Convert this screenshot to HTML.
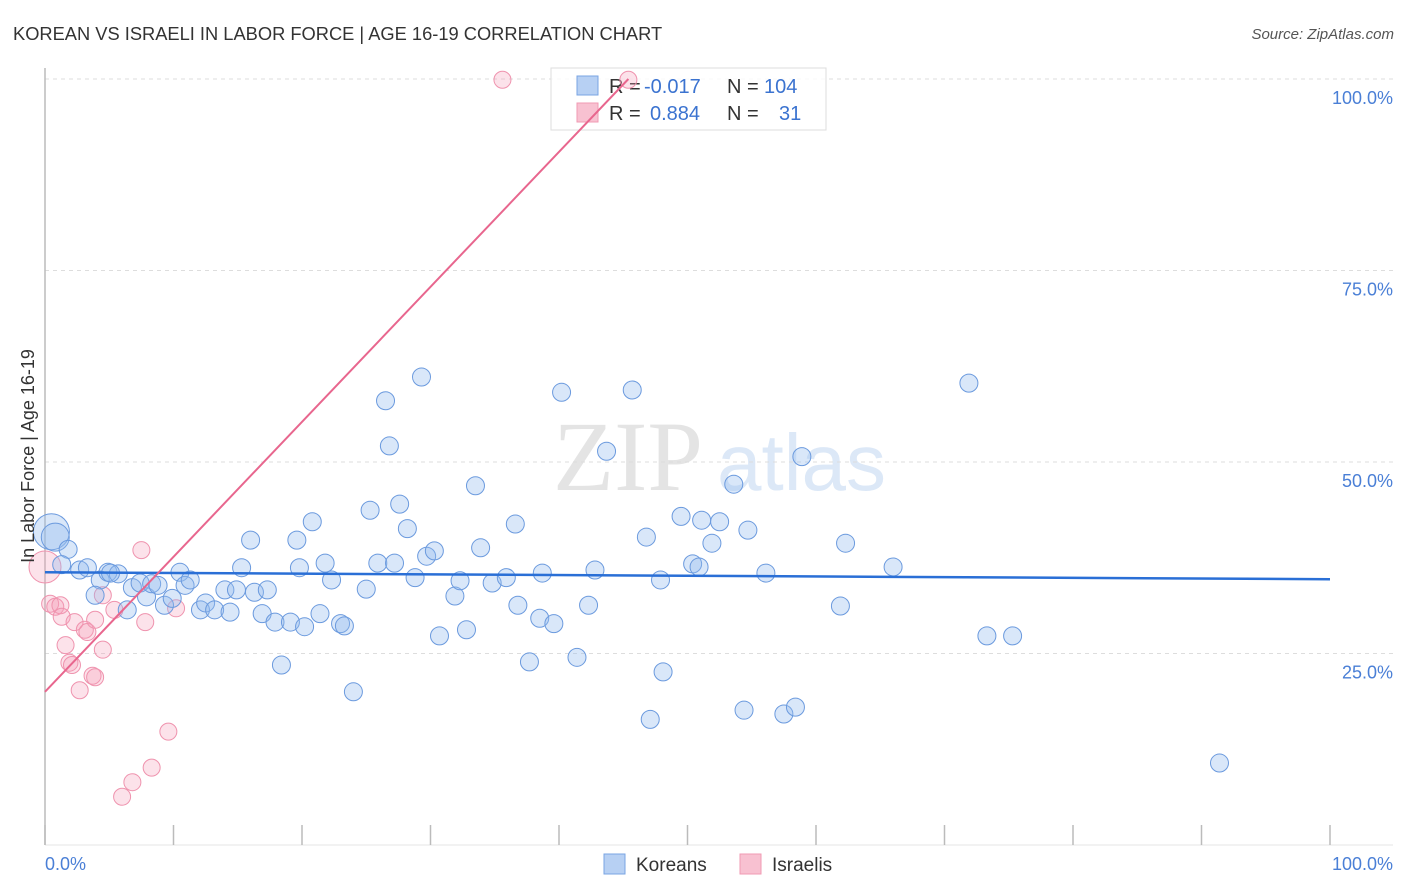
<!DOCTYPE html>
<html><head><meta charset="utf-8"><style>
body{margin:0;background:#fff;font-family:"Liberation Sans",sans-serif;}
svg{display:block}
</style></head><body>
<svg id="chart" width="1406" height="892" xmlns="http://www.w3.org/2000/svg" font-family="Liberation Sans, sans-serif">
<text x="13" y="40" font-size="18.3" fill="#333">KOREAN VS ISRAELI IN LABOR FORCE | AGE 16-19 CORRELATION CHART</text>
<text x="1394" y="39" font-size="15" fill="#555" font-style="italic" text-anchor="end">Source: ZipAtlas.com</text>
<g>
<text x="553" y="490" font-size="100" font-family="Liberation Serif, serif" fill="#e4e4e4">ZIP</text>
<text x="717" y="490" font-size="80" fill="#dce8f7">atlas</text>
</g>
<g id="grid"></g>
<g id="axes"></g>
<g>
<rect x="551" y="68" width="275" height="62" fill="#fff" fill-opacity="0.85" stroke="#ddd"/>
<rect x="577" y="76" width="21" height="19" fill="#b7d0f3" stroke="#7aa4e3"/>
<rect x="577" y="103" width="21" height="19" fill="#f8c1d1" stroke="#f09ab3"/>
<text x="609" y="93" font-size="20" fill="#333">R =</text>
<text x="644" y="93" font-size="20" fill="#3b73d0">-0.017</text>
<text x="727" y="93" font-size="20" fill="#333">N =</text>
<text x="764" y="93" font-size="20" fill="#3b73d0">104</text>
<text x="609" y="120" font-size="20" fill="#333">R =</text>
<text x="650" y="120" font-size="20" fill="#3b73d0">0.884</text>
<text x="727" y="120" font-size="20" fill="#333">N =</text>
<text x="779" y="120" font-size="20" fill="#3b73d0">31</text>
</g>
<g id="marks"></g>
<text transform="translate(34,456) rotate(-90)" font-size="18" fill="#333" text-anchor="middle">In Labor Force | Age 16-19</text>
<text x="45" y="870" font-size="18" fill="#4a7fd6">0.0%</text>
<text x="1393" y="870" font-size="18" fill="#4a7fd6" text-anchor="end">100.0%</text>
<g>
<rect x="604" y="854" width="21" height="20" fill="#b7d0f3" stroke="#7aa4e3"/>
<text x="636" y="871" font-size="19" fill="#333">Koreans</text>
<rect x="740" y="854" width="21" height="20" fill="#f8c1d1" stroke="#f09ab3"/>
<text x="772" y="871" font-size="19" fill="#333">Israelis</text>
</g>
</svg>
<script>
const yTicks=[25,50,75,100];
const yTickLabels=["25.0%","50.0%","75.0%","100.0%"];
const xTicks=[0,10,20,30,40,50,60,70,80,90,100];
const koreanX=[0.5,0.8,1.8,1.3,2.7,3.3,4.3,4.9,5.7,3.9,5.1,6.4,6.8,7.4,7.9,8.3,8.8,9.3,9.9,10.5,10.9,11.3,12.1,12.5,13.2,14.0,14.4,14.9,16.0,15.3,16.3,16.9,17.3,17.9,18.4,19.1,19.6,19.8,20.2,20.8,21.4,21.8,22.3,23.0,23.3,24.0,25.0,25.3,25.9,26.5,26.8,27.2,27.6,28.2,28.8,29.3,29.7,30.3,30.7,31.9,32.3,32.8,33.5,33.9,34.8,35.9,36.6,36.8,37.7,38.5,38.7,39.6,40.2,41.4,42.3,42.8,43.7,45.7,46.8,47.1,47.9,48.1,49.5,50.4,50.9,51.1,51.9,52.5,53.6,54.4,54.7,56.1,57.5,58.4,58.9,61.9,62.3,66.0,71.9,73.3,75.3,91.4];
const koreanY=[40.9,40.2,38.6,36.6,35.9,36.2,34.6,35.6,35.4,32.6,35.5,30.7,33.6,34.2,32.4,34.1,33.9,31.3,32.2,35.6,33.9,34.6,30.7,31.6,30.7,33.3,30.4,33.3,39.8,36.2,33.0,30.2,33.3,29.1,23.5,29.1,39.8,36.2,28.5,42.2,30.2,36.8,34.6,28.9,28.6,20.0,33.4,43.7,36.8,58.0,52.1,36.8,44.5,41.3,34.9,61.1,37.7,38.4,27.3,32.5,34.5,28.1,46.9,38.8,34.2,34.9,41.9,31.3,23.9,29.6,35.5,28.9,59.1,24.5,31.3,35.9,51.4,59.4,40.2,16.4,34.6,22.6,42.9,36.7,36.3,42.4,39.4,42.2,47.1,17.6,41.1,35.5,17.1,18.0,50.7,31.2,39.4,36.3,60.3,27.3,27.3,10.7];
const koreanR=[18,14];
const israeliX=[0,0.4,0.8,1.2,1.3,1.6,1.9,2.1,2.3,2.7,3.1,3.3,3.7,3.9,3.9,4.5,4.5,5.4,6.0,6.8,7.5,7.8,8.3,9.6,10.2,35.6,45.4];
const israeliY=[36.3,31.5,31.1,31.3,29.8,26.1,23.8,23.5,29.1,20.2,28.1,27.8,22.1,29.4,21.9,25.5,32.6,30.7,6.3,8.2,38.5,29.1,10.1,14.8,30.9,99.9,99.9];
const koreanTrend=[35.6,34.7];
const israeliTrend=[20.0,100];
const israeliTrendEndX=45.4;

const NS="http://www.w3.org/2000/svg";
const X0=45,X1=1330,Y0=845,Y100=79;
function sx(v){return X0+(X1-X0)*v/100;}
function sy(v){return Y0-(Y0-Y100)*v/100;}
function mk(tag,attrs,parent){const e=document.createElementNS(NS,tag);for(const k in attrs)e.setAttribute(k,attrs[k]);parent.appendChild(e);return e;}
const grid=document.getElementById('grid'),axes=document.getElementById('axes'),marks=document.getElementById('marks');
yTicks.forEach((t,i)=>{
  const l=mk('line',{x1:45,x2:1393,y1:sy(t),y2:sy(t),stroke:'#ddd','stroke-dasharray':'4,4'},grid);
  
  
  const tx=mk('text',{x:1393,y:sy(t)+25,'font-size':18,fill:'#4a7fd6','text-anchor':'end'},grid);
  tx.textContent=yTickLabels[i];
  
  
});
const ya=mk('line',{x1:45,x2:45,y1:68,y2:845,stroke:'#bbb','stroke-width':1.5},axes);


const xa=mk('line',{x1:45,x2:1393,y1:845,y2:845,stroke:'#e5e5e5'},axes);


xTicks.forEach(t=>{
  const l=mk('line',{x1:sx(t),x2:sx(t),y1:825,y2:845,stroke:'#bbb','stroke-width':1.5},axes);
  
  
});
israeliX.forEach((x,i)=>{
  const c=mk('circle',{cx:sx(x),cy:sy(israeliY[i]),r:i===0?16:8.5,fill:'rgba(244,160,184,0.3)',stroke:'#ef93ae','stroke-width':1},marks);
  
  
});
koreanX.forEach((x,i)=>{
  const c=mk('circle',{cx:sx(x),cy:sy(koreanY[i]),r:koreanR[i]||9,fill:'rgba(147,186,237,0.35)',stroke:'#6b9ade','stroke-width':1},marks);
  
  
});
const kt=mk('line',{x1:sx(0),y1:sy(koreanTrend[0]),x2:sx(100),y2:sy(koreanTrend[1]),stroke:'#2a6fd6','stroke-width':2.5},marks);


const it=mk('line',{x1:sx(0),y1:sy(israeliTrend[0]),x2:sx(israeliTrendEndX),y2:sy(israeliTrend[1]),stroke:'#e8668e','stroke-width':2},marks);


</script>
</body></html>
